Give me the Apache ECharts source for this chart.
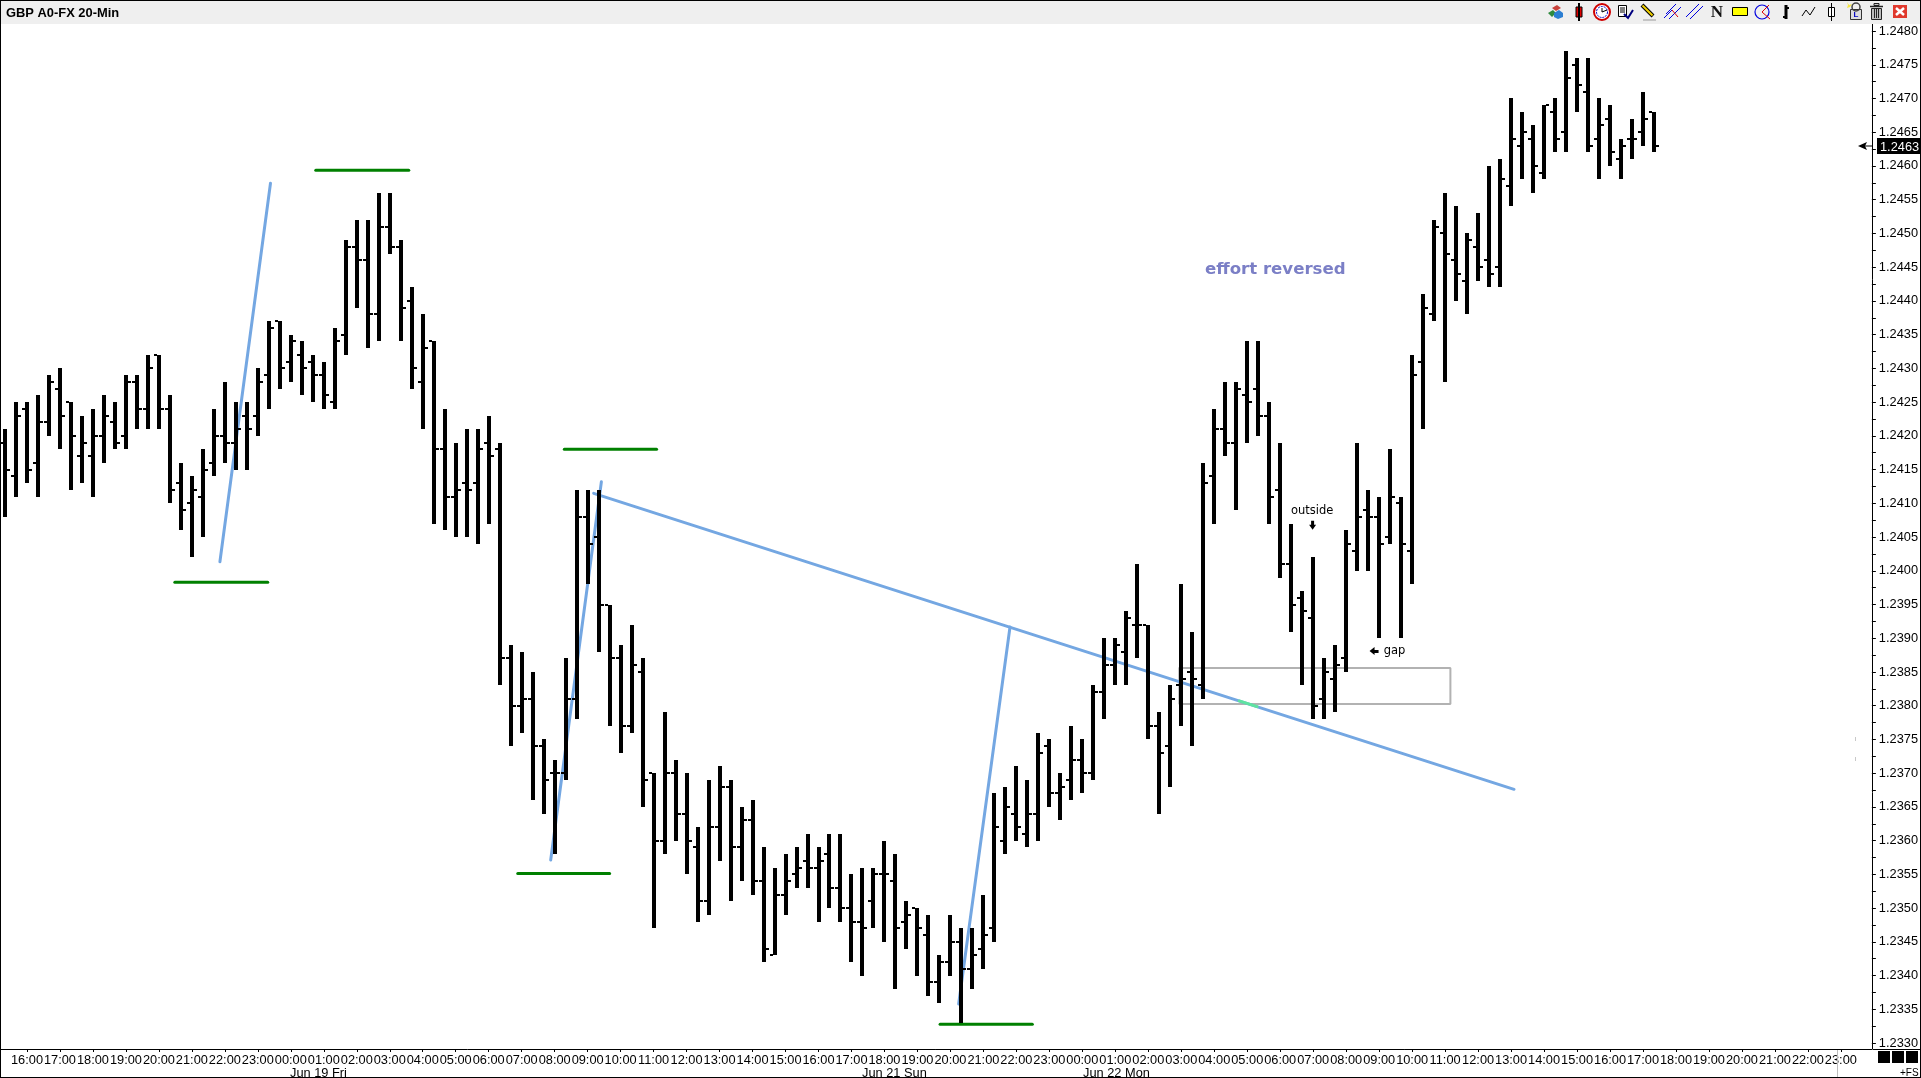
<!DOCTYPE html>
<html><head><meta charset="utf-8">
<style>html,body{margin:0;padding:0;background:#fff;overflow:hidden}#c{width:1921px;height:1078px}</style>
<script src="https://cdn.jsdelivr.net/npm/echarts@6/dist/echarts.min.js"></script>
</head><body><div id="c"></div>
<script>
const opens = [
1.2419,1.2414,1.2424,1.2416,1.2422,1.2427,1.2425,1.2417,1.2417,1.2420,
1.2422,1.2420,1.2428,1.2424,1.2432,1.2424,1.2413,1.2410,1.2411,1.2416,
1.2420,1.2419,1.2423,1.2423,1.2429,1.2437,1.2431,1.2432,1.2431,1.2429,
1.2425,1.2435,1.2448,1.2446,1.2438,1.2451,1.2448,1.2440,1.2428,1.2434,
1.2418,1.2411,1.2413,1.2413,1.2419,1.2418,1.2387,1.2380,1.2381,1.2374,
1.2370,1.2370,1.2381,1.2408,1.2405,1.2395,1.2387,1.2377,1.2385,1.2370,
1.2360,1.2370,1.2364,1.2359,1.2351,1.2362,1.2368,1.2359,1.2363,1.2354,
1.2343,1.2352,1.2355,1.2357,1.2356,1.2358,1.2353,1.2350,1.2348,1.2351,
1.2355,1.2354,1.2348,1.2350,1.2346,1.2339,1.2342,1.2345,1.2341,1.2344,
1.2347,1.2360,1.2364,1.2361,1.2364,1.2374,1.2367,1.2369,1.2372,1.2370,
1.2382,1.2386,1.2388,1.2392,1.2392,1.2377,1.2374,1.2383,1.2385,1.2383,
1.2414,1.2421,1.2419,1.2426,1.2427,1.2423,1.2412,1.2401,1.2396,1.2393,
1.2381,1.2384,1.2387,1.2403,1.2409,1.2408,1.2405,1.2410,1.2403,1.2431,
1.2438,1.2450,1.2446,1.2443,1.2448,1.2446,1.2445,1.2457,1.2463,1.2464,
1.2459,1.2468,1.2465,1.2475,1.2471,1.2464,1.2467,1.2461,1.2464,1.2465,1.2468];
const closes = [
1.2415,1.2423,1.2415,1.2422,1.2428,1.2423,1.2420,1.2419,1.2420,1.2423,
1.2419,1.2428,1.2424,1.2430,1.2424,1.2412,1.2409,1.2412,1.2415,1.2420,
1.2419,1.2421,1.2421,1.2428,1.2436,1.2430,1.2434,1.2430,1.2429,1.2426,
1.2434,1.2448,1.2446,1.2438,1.2451,1.2448,1.2439,1.2430,1.2433,1.2418,
1.2411,1.2412,1.2412,1.2418,1.2417,1.2387,1.2380,1.2381,1.2374,1.2369,
1.2370,1.2381,1.2408,1.2404,1.2395,1.2387,1.2377,1.2386,1.2369,1.2360,
1.2370,1.2364,1.2360,1.2351,1.2362,1.2368,1.2359,1.2363,1.2354,1.2344,
1.2352,1.2354,1.2356,1.2356,1.2357,1.2353,1.2350,1.2348,1.2347,1.2355,
1.2355,1.2347,1.2349,1.2347,1.2339,1.2342,1.2345,1.2341,1.2343,1.2346,
1.2362,1.2365,1.2362,1.2364,1.2373,1.2367,1.2368,1.2372,1.2370,1.2382,
1.2386,1.2389,1.2393,1.2392,1.2377,1.2373,1.2381,1.2384,1.2384,1.2413,
1.2421,1.2419,1.2427,1.2425,1.2423,1.2411,1.2401,1.2395,1.2394,1.2380,
1.2385,1.2386,1.2404,1.2408,1.2408,1.2404,1.2411,1.2404,1.2429,1.2439,
1.2451,1.2447,1.2444,1.2449,1.2445,1.2444,1.2458,1.2464,1.2465,1.2460,
1.2469,1.2464,1.2473,1.2472,1.2463,1.2466,1.2462,1.2463,1.2464,1.2467,1.2463];
const highs = [
1.2421,1.2425,1.2425,1.2426,1.2429,1.2430,1.2425,1.2423,1.2424,1.2426,
1.2425,1.2429,1.2429,1.2432,1.2432,1.2426,1.2416,1.2414,1.2418,1.2424,
1.2428,1.2425,1.2425,1.2430,1.2437,1.2437,1.2435,1.2434,1.2432,1.2431,
1.2436,1.2449,1.2452,1.2452,1.2456,1.2456,1.2449,1.2442,1.2438,1.2434,
1.2424,1.2419,1.2421,1.2421,1.2423,1.2419,1.2389,1.2388,1.2385,1.2375,
1.2372,1.2387,1.2412,1.2412,1.2412,1.2395,1.2389,1.2392,1.2387,1.2370,
1.2379,1.2372,1.2370,1.2362,1.2369,1.2371,1.2369,1.2365,1.2366,1.2359,
1.2356,1.2358,1.2359,1.2361,1.2359,1.2361,1.2361,1.2355,1.2356,1.2356,
1.2360,1.2358,1.2351,1.2350,1.2349,1.2343,1.2349,1.2347,1.2347,1.2352,
1.2367,1.2368,1.2371,1.2369,1.2376,1.2375,1.2370,1.2377,1.2375,1.2383,
1.2390,1.2390,1.2394,1.2401,1.2392,1.2379,1.2383,1.2398,1.2391,1.2416,
1.2424,1.2428,1.2428,1.2434,1.2434,1.2425,1.2419,1.2407,1.2397,1.2402,
1.2387,1.2389,1.2406,1.2419,1.2412,1.2411,1.2418,1.2411,1.2432,1.2441,
1.2452,1.2456,1.2454,1.2450,1.2453,1.2460,1.2461,1.2470,1.2468,1.2466,
1.2469,1.2470,1.2477,1.2476,1.2476,1.2470,1.2469,1.2464,1.2467,1.2471,1.2468];
const lows = [
1.2408,1.2411,1.2413,1.2411,1.2420,1.2418,1.2412,1.2413,1.2411,1.2416,
1.2418,1.2418,1.2421,1.2421,1.2421,1.2410,1.2406,1.2402,1.2405,1.2414,
1.2416,1.2415,1.2415,1.2420,1.2424,1.2427,1.2428,1.2426,1.2425,1.2424,
1.2424,1.2432,1.2439,1.2433,1.2434,1.2447,1.2434,1.2427,1.2421,1.2407,
1.2406,1.2405,1.2405,1.2404,1.2407,1.2383,1.2374,1.2376,1.2366,1.2364,
1.2358,1.2369,1.2378,1.2398,1.2388,1.2377,1.2373,1.2376,1.2365,1.2347,
1.2358,1.2360,1.2355,1.2348,1.2349,1.2357,1.2351,1.2354,1.2352,1.2342,
1.2343,1.2349,1.2353,1.2353,1.2348,1.2350,1.2348,1.2342,1.2340,1.2347,
1.2345,1.2338,1.2344,1.2340,1.2337,1.2336,1.2340,1.2333,1.2338,1.2341,
1.2345,1.2358,1.2360,1.2359,1.2360,1.2365,1.2363,1.2366,1.2367,1.2369,
1.2378,1.2383,1.2383,1.2387,1.2375,1.2364,1.2368,1.2377,1.2374,1.2381,
1.2407,1.2417,1.2409,1.2419,1.2420,1.2407,1.2399,1.2391,1.2383,1.2378,
1.2378,1.2379,1.2385,1.2400,1.2400,1.2390,1.2404,1.2390,1.2398,1.2421,
1.2437,1.2428,1.2440,1.2438,1.2443,1.2442,1.2442,1.2454,1.2458,1.2456,
1.2458,1.2462,1.2462,1.2468,1.2462,1.2458,1.2460,1.2458,1.2461,1.2463,1.2462];

const priceLabels = [1.2480,1.2475,1.2470,1.2465,1.2460,1.2455,1.2450,1.2445,1.2440,1.2435,1.2430,1.2425,1.2420,1.2415,1.2410,1.2405,1.2400,1.2395,1.2390,1.2385,1.2380,1.2375,1.2370,1.2365,1.2360,1.2355,1.2350,1.2345,1.2340,1.2335,1.2330];
const priceTicks = [1.24775,1.24725,1.24675,1.24625,1.24575,1.24525,1.24475,1.24425,1.24375,1.24325,1.24275,1.24225,1.24175,1.24125,1.24075,1.24025,1.23975,1.23925,1.23875,1.23825,1.23775,1.23725,1.23675,1.23625,1.23575,1.23525,1.23475,1.23425,1.23375,1.23325];
const hourLabels = ['16:00','17:00','18:00','19:00','20:00','21:00','22:00','23:00','00:00','01:00','02:00','03:00','04:00','05:00','06:00','07:00','08:00','09:00','10:00','11:00','12:00','13:00','14:00','15:00','16:00','17:00','18:00','19:00','20:00','21:00','22:00','23:00','00:00','01:00','02:00','03:00','04:00','05:00','06:00','07:00','08:00','09:00','10:00','11:00','12:00','13:00','14:00','15:00','16:00','17:00','18:00','19:00','20:00','21:00','22:00','23:00'];
const hourBars = [2,5,8,11,14,17,20,23,26,29,32,35,38,41,44,47,50,53,56,59,62,65,68,71,74,77,80,83,86,89,92,95,98,101,104,107,110,113,116,119,122,125,128,131,134,137,140,143,146,149,152,155,158,161,164,167];
const lastPrice = 1.2463;

const greenLevels = [
  [[15.45,1.23983],[23.9,1.23983]],
  [[28.27,1.245935],[36.73,1.245935]],
  [[50.88,1.2418],[59.27,1.2418]],
  [[46.64,1.235513],[55.0,1.235513]],
  [[85.06,1.23328],[93.45,1.23328]]
];
const blueLines = [
  [[19.55,1.240134],[24.15,1.245743]],
  [[49.64,1.235713],[54.25,1.24132]],
  [[53.55,1.241148],[137.27,1.236761]],
  [[86.75,1.233579],[91.42,1.239166]]
];
const gapBox = [[106.82,1.238559],[131.48,1.238559],[131.48,1.238025],[106.82,1.238025],[106.82,1.238559]];
const flash = [[112.27,1.238071],[113.9,1.237986]];
const notes = [
  {t:'effort reversed',x:115.55,y:1.244465,font:'bold 16.6px "DejaVu Sans"',c:'#7b7fc6'},
  {t:'outside',x:118.9,y:1.24089,font:'11.5px "DejaVu Sans"',c:'#000'},
  {t:'gap',x:126.4,y:1.23881,font:'11.5px "DejaVu Sans"',c:'#000'}
];

const C_BG='#efefef', BLUE='#74a7e2', GREEN='#008000';
const F='"Liberation Sans",Arial,sans-serif';
const bars = opens.map((o,i)=>[i,highs[i],lows[i],o,closes[i]]);

function barItem(p,api){
  const i=api.value(0);
  const x=Math.round(api.coord([i,api.value(1)])[0]);
  const yH=Math.round(api.coord([i,api.value(1)])[1]);
  const yL=Math.round(api.coord([i,api.value(2)])[1]);
  const yO=Math.round(api.coord([i,api.value(3)])[1]);
  const yC=Math.round(api.coord([i,api.value(4)])[1]);
  const k={fill:'#000'};
  return {type:'group',children:[
    {type:'rect',shape:{x:x-2,y:yH,width:4,height:yL-yH},style:k},
    {type:'rect',shape:{x:x-5,y:yO-1,width:3,height:2},style:k},
    {type:'rect',shape:{x:x+2,y:yC-1,width:3,height:2},style:k}
  ]};
}

const lineSeries=(data,color,width,z)=>({type:'line',data,z,silent:true,showSymbol:false,symbol:'none',animation:false,
  lineStyle:{color,width,cap:'round'},clip:true});

const series=[
  lineSeries(gapBox,'#b2b2b2',2,1),
  ...blueLines.map(d=>lineSeries(d,BLUE,3,2)),
  lineSeries(flash,'#5fe3a1',3,2),
  ...greenLevels.map(d=>lineSeries(d,GREEN,3,2)),
  {type:'custom',z:3,silent:true,animation:false,clip:true,data:bars,encode:{x:0,y:[1,2,3,4]},renderItem:barItem},
  {type:'custom',z:4,silent:true,animation:false,clip:false,data:notes.map(n=>[n.x,n.y]),
    renderItem(p,api){
      const n=notes[p.dataIndex], c=api.coord([n.x,n.y]);
      const kids=[{type:'text',x:c[0],y:c[1],style:{text:n.t,font:n.font,fill:n.c,align:'center',verticalAlign:'middle'}}];
      if(n.t==='outside'){
        kids.push({type:'polygon',shape:{points:[[c[0]-1,c[1]+10],[c[0]+2,c[1]+10],[c[0]+2,c[1]+14],[c[0]+4,c[1]+14],[c[0]+.5,c[1]+19],[c[0]-3,c[1]+14],[c[0]-1,c[1]+14]]},style:{fill:'#000'}});
      }
      if(n.t==='gap'){
        kids.push({type:'polygon',shape:{points:[[c[0]-25,c[1]],[c[0]-20,c[1]-4],[c[0]-20,c[1]-1],[c[0]-16,c[1]-1],[c[0]-16,c[1]+2],[c[0]-20,c[1]+2],[c[0]-20,c[1]+4]]},style:{fill:'#000'}});
      }
      return {type:'group',children:kids};
    }},
  {type:'custom',z:5,silent:true,animation:false,clip:false,data:[[150,lastPrice]],
    renderItem(p,api){
      const y=Math.round(api.coord([150,api.value(1)])[1]);
      return {type:'group',children:[
        {type:'rect',shape:{x:1877,y:y-8,width:44,height:16},style:{fill:'#000'}},
        {type:'text',x:1880,y:y+1,style:{text:api.value(1).toFixed(4),font:'12.8px '+F,fill:'#fff',verticalAlign:'middle'}},
        {type:'polygon',shape:{points:[[1858,y],[1867,y-4],[1865,y],[1867,y+4]]},style:{fill:'#000'}},
        {type:'rect',shape:{x:1862,y:y-.5,width:10,height:1},style:{fill:'#000'}}
      ]};
    }}
];

/* --- chrome: toolbar, frame, lower strip --- */
const g=[];
const R=(x,y,w,h,fill,stroke,lw)=>g.push({type:'rect',z:50,silent:true,shape:{x,y,width:w,height:h},style:{fill:fill||'none',stroke:stroke||null,lineWidth:lw||1}});
const L=(pts,stroke,lw)=>g.push({type:'polyline',z:51,silent:true,shape:{points:pts},style:{stroke,lineWidth:lw||1,fill:'none'}});
const P=(pts,fill)=>g.push({type:'polygon',z:51,silent:true,shape:{points:pts},style:{fill}});
const Ci=(cx,cy,r,fill,stroke,lw,dash)=>g.push({type:'circle',z:51,silent:true,shape:{cx,cy,r},style:{fill:fill||'none',stroke,lineWidth:lw||1,lineDash:dash||null}});
const T=(t,x,y,font,fill,align)=>g.push({type:'text',z:52,silent:true,x,y,style:{text:t,font,fill:fill||'#000',align:align||'left',verticalAlign:'middle'}});

R(0,0,1921,24,C_BG);
T('GBP A0-FX 20-Min',6,13,'bold 12.9px '+F);
// cubes
P([[1552,8],[1557,5],[1561,8],[1556,11]],'#c9423c');P([[1548,13],[1553,10],[1556,13],[1552,17]],'#2f8a3e');P([[1554,13],[1559,10],[1563,13],[1563,17],[1558,19],[1554,17]],'#2b7ed2');
// red candle
L([[1579,3],[1579,21]],'#000',2);R(1576,7,6,10,'#e00000','#000',1);
// clock
Ci(1602,12,8,'#fff','#d00000',2);Ci(1602,12,5.5,'none','#0000c8',1,[2,1]);L([[1602,12],[1602,8]],'#000',1);L([[1602,12],[1607,10]],'#000',1);
// list + check
R(1618.5,5.5,8,11,'#fff','#000',1);L([[1620,8],[1625,8]],'#000',1);L([[1620,10],[1625,10]],'#000',1);L([[1620,12],[1625,12]],'#000',1);L([[1624,14],[1628,18],[1633,10]],'#000080',2);
// pencil
L([[1642,5],[1653,16]],'#000',4);L([[1642.5,5.5],[1652.5,15.5]],'#f0d000',2);L([[1643,20],[1656,20]],'#999',1);
// fork
L([[1664,18],[1672,10]],'#0000e0',1);L([[1669,19],[1681,7]],'#0000e0',1);L([[1666,14],[1676,4]],'#0000e0',1);L([[1672,10],[1678,17]],'#e00000',1);
// parallel
L([[1686,17],[1699,4]],'#0000e0',1);L([[1690,19],[1703,6]],'#0000e0',1);
// N
T('N',1717,12.5,'bold 17px "Liberation Serif",serif','#111','center');
// yellow
R(1732.5,7.5,15,8,'#ffff00','#000',1);
// circle
Ci(1762,12,7,'none','#0000e0',1.2);L([[1769,5],[1762,12],[1770,19]],'#e00000',1);
// bar
L([[1786,5],[1786,19]],'#000',3);L([[1783,17],[1786,17]],'#000',2);L([[1786,8],[1789,8]],'#000',2);
// zigzag
L([[1802,16],[1806,10],[1810,15],[1815,7]],'#000',1);
// hollow candle
L([[1831.5,3],[1831.5,21]],'#000',1);R(1828.5,7.5,6,9,'#fff','#000',1);
// lock
P([[1847,2],[1849,5],[1852,4],[1850,7],[1847,8],[1848,5]],'#f5e642');Ci(1856,7,4,'none','#444',1.5);R(1850.5,9.5,11,10,'#ddd','#333',1);T('L',1856,15,'bold 8px '+F,'#0000c0','center');
// trash
R(1871.5,8.5,10,11,'#bbb','#222',1);L([[1870,6.5],[1883,6.5]],'#222',1.5);L([[1874.5,9],[1874.5,18]],'#222',1);L([[1876.5,9],[1876.5,18]],'#222',1);L([[1878.5,9],[1878.5,18]],'#222',1);R(1874,3.5,5,2,'#ccc','#222',1);
// close
R(1893,5,14,13,'#e0392d');L([[1896,8],[1904,15]],'#fff',2.5);L([[1904,8],[1896,15]],'#fff',2.5);

// faint marks left of the price axis
R(1855,737,1,4,'#c8c8c8');R(1855,757,1,4,'#c8c8c8');

// lower strip
T('Jun 19 Fri',290,1073,'12.8px '+F);
T('Jun 21 Sun',862,1073,'12.8px '+F);
T('Jun 22 Mon',1083,1073,'12.8px '+F);
T('+FS',1900,1073,'10px '+F);
R(1878,1051,12,12,'#000');R(1892,1051,12,12,'#000');R(1906,1051,12,12,'#000');
R(1837,1050,1,27,'#bdbdbd');
R(1873,1049,48,1,'#000');
// frame
R(0,0,1921,1,'#000');R(0,0,1,1078,'#000');R(1920,0,1,1078,'#000');R(0,1077,1921,1,'#000');

const chart=echarts.init(document.getElementById('c'),null,{renderer:'canvas'});
chart.setOption({
  animation:false,backgroundColor:'#fff',
  grid:{left:0,top:23,width:1873,height:1026,containLabel:false},
  xAxis:{type:'value',min:-0.4545,max:169.818,position:'bottom',splitLine:{show:false},
    axisLine:{show:true,onZero:false,lineStyle:{color:'#000',width:1}},
    axisTick:{show:true,length:3,inside:false,lineStyle:{color:'#000'},customValues:hourBars},
    axisLabel:{show:true,customValues:hourBars,margin:5,color:'#000',fontFamily:'Liberation Sans',fontSize:12.8,
      formatter:v=>hourLabels[hourBars.indexOf(Math.round(v))]||''}},
  yAxis:{type:'value',scale:true,min:1.232912,max:1.248119,position:'right',splitLine:{show:false},
    axisLine:{show:true,onZero:false,lineStyle:{color:'#000',width:1}},
    axisTick:{show:true,length:4,lineStyle:{color:'#000'},customValues:priceLabels.concat(priceTicks)},
    axisLabel:{show:true,customValues:priceLabels,margin:7,padding:[2,0,0,0],color:'#000',fontFamily:'Liberation Sans',fontSize:12.8,
      formatter:v=>v.toFixed(4)}},
  series,
  graphic:{elements:g}
});
</script></body></html>
